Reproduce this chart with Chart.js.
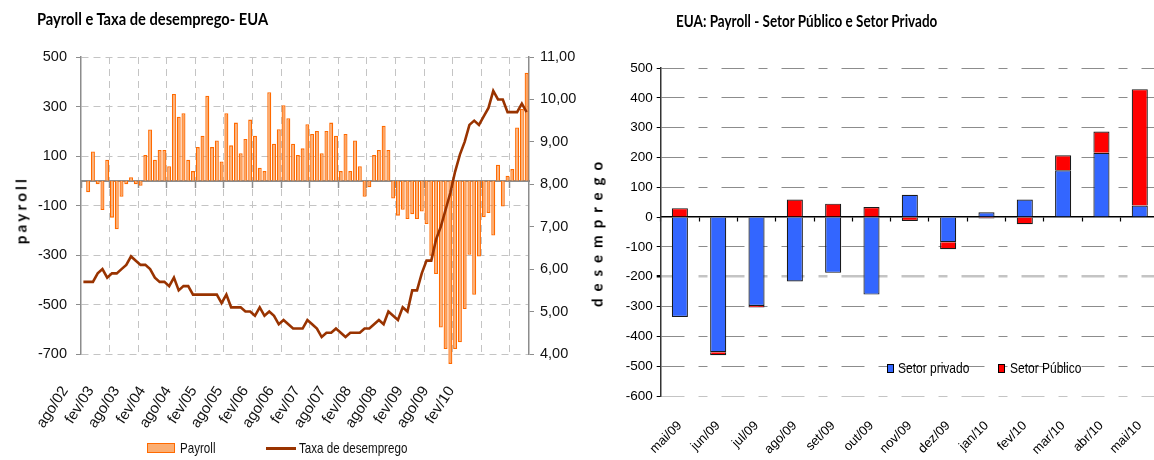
<!DOCTYPE html>
<html><head><meta charset="utf-8">
<script src="https://cdn.jsdelivr.net/npm/chart.js@4.4.1/dist/chart.umd.min.js"></script>
<style>
html,body{margin:0;padding:0;overflow:hidden;background:#fff;}
#wrap{position:relative;width:1154px;height:460px;overflow:hidden;background:#fff;}
canvas{position:absolute;top:0;}
.t{position:absolute;white-space:nowrap;line-height:1;transform-origin:left top;color:#000;font-family:Lato,sans-serif;font-weight:bold;}
.ax{position:absolute;white-space:nowrap;line-height:1;font-family:Lato,sans-serif;font-weight:bold;font-size:15px;color:#000;transform:translate(-50%,-50%) rotate(-90deg);}
.lt{position:absolute;white-space:nowrap;line-height:16px;font-family:'Liberation Sans',Arial,sans-serif;color:#111;transform-origin:left center;transform:scaleX(0.8);}
.sw{position:absolute;box-sizing:border-box;}
</style></head><body>
<div id="wrap">
<canvas id="c1" width="590" height="460" style="left:0"></canvas>
<canvas id="c2" width="565" height="460" style="left:600px"></canvas>
<div class="t" style="left:37px;top:10px;font-size:14.7px;transform:scaleY(1.17)">Payroll e Taxa de desemprego- EUA</div>
<div class="t" style="left:676px;top:14px;font-size:13.5px;transform:scaleY(1.2)">EUA: Payroll - Setor Público e Setor Privado</div>
<div class="ax" style="left:21px;top:210px;letter-spacing:3.3px">payroll</div>
<div class="ax" style="left:597px;top:231px;letter-spacing:7px">desemprego</div>
<div class="sw" style="left:147px;top:443px;width:28px;height:10px;background:#FBAE72;border:1.5px solid #FF6A00"></div>
<div class="lt" style="left:180px;top:440px;font-size:14.5px">Payroll</div>
<div class="sw" style="left:266px;top:446.5px;width:30px;height:3px;background:#993300"></div>
<div class="lt" style="left:299px;top:440px;font-size:14.5px">Taxa de desemprego</div>
<div class="sw" style="left:887px;top:363.5px;width:7px;height:9px;background:#3366FF;border:1px solid #000"></div>
<div class="lt" style="left:898px;top:360px;font-size:15px;color:#000">Setor privado</div>
<div class="sw" style="left:998px;top:363.5px;width:7px;height:9px;background:#FF0000;border:1px solid #000"></div>
<div class="lt" style="left:1010px;top:360px;font-size:15px;color:#000">Setor Público</div>
</div>
<script>
// ---------- Left chart data ----------
const months = [
 'ago/02','set/02','out/02','nov/02','dez/02',
 'jan/03','fev/03','mar/03','abr/03','mai/03','jun/03','jul/03','ago/03','set/03','out/03','nov/03','dez/03',
 'jan/04','fev/04','mar/04','abr/04','mai/04','jun/04','jul/04','ago/04','set/04','out/04','nov/04','dez/04',
 'jan/05','fev/05','mar/05','abr/05','mai/05','jun/05','jul/05','ago/05','set/05','out/05','nov/05','dez/05',
 'jan/06','fev/06','mar/06','abr/06','mai/06','jun/06','jul/06','ago/06','set/06','out/06','nov/06','dez/06',
 'jan/07','fev/07','mar/07','abr/07','mai/07','jun/07','jul/07','ago/07','set/07','out/07','nov/07','dez/07',
 'jan/08','fev/08','mar/08','abr/08','mai/08','jun/08','jul/08','ago/08','set/08','out/08','nov/08','dez/08',
 'jan/09','fev/09','mar/09','abr/09','mai/09','jun/09','jul/09','ago/09','set/09','out/09','nov/09','dez/09',
 'jan/10','fev/10','mar/10','abr/10','mai/10'
];
const payroll = [
 null, -46, 118, -14, -118,
 85, -149, -196, -65, -14, 14, -14, -20, 104, 207, 85, 124,
 124, 59, 351, 259, 273, 85, 39, 136, 182, 343, 136, 163,
 78, 273, 143, 235, 111, 169, 247, 182, 53, 39, 358, 150,
 208, 305, 253, 150, 104, 131, 228, 189, 201, 111, 201, 235,
 182, 39, 189, 39, 163, 59, -65, -26, 104, 124, 222, 124,
 -72, -141, -117, -155, -135, -155, -124, -175, -303, -377, -593, -680,
 -740, -680, -653, -518, -299, -461, -306, -147, -130, -221, 65, -104,
 20, 47, 215, 290, 436
];
const unemployment = [
 5.7, 5.7, 5.7, 5.9, 6.0,
 5.8, 5.9, 5.9, 6.0, 6.1, 6.3, 6.2, 6.1, 6.1, 6.0, 5.8, 5.7,
 5.7, 5.6, 5.8, 5.5, 5.6, 5.6, 5.4, 5.4, 5.4, 5.4, 5.4, 5.4,
 5.2, 5.4, 5.1, 5.1, 5.1, 5.0, 5.0, 4.9, 5.1, 4.9, 5.0, 4.9,
 4.7, 4.8, 4.7, 4.6, 4.6, 4.6, 4.8, 4.7, 4.6, 4.4, 4.5, 4.5,
 4.6, 4.5, 4.4, 4.5, 4.5, 4.5, 4.6, 4.6, 4.7, 4.8, 4.7, 5.0,
 4.9, 4.8, 5.1, 5.0, 5.5, 5.5, 5.9, 6.2, 6.2, 6.7, 7.0, 7.4,
 7.8, 8.3, 8.7, 9.0, 9.4, 9.5, 9.4, 9.6, 9.8, 10.2, 10.0, 10.0,
 9.7, 9.7, 9.7, 9.9, 9.7
];
const xTickLabels = ['ago/02','fev/03','ago/03','fev/04','ago/04','fev/05','ago/05','fev/06',
 'ago/06','fev/07','ago/07','fev/08','ago/08','fev/09','ago/09','fev/10'];

// ---------- Right chart data ----------
const rCats = ['mai/09','jun/09','jul/09','ago/09','set/09','out/09','nov/09','dez/09','jan/10','fev/10','mar/10','abr/10','mai/10'];
const privado = [-335, -453, -298, -216, -187, -260, 75, -84, 16, 59, 157, 216, 39];
const publico = [30, -10, -5, 59, 45, 34, -13, -24, -5, -24, 50, 71, 390];

// ---------- Styles ----------
const FONT = "'Liberation Sans',Arial,sans-serif";
const ORANGE_FILL = '#FBA868', ORANGE_LINE = '#FF6A00', BROWN = '#993300';
const GRID1 = '#c4c4c4', AXIS1 = '#8c8c8c', NONE = 'rgba(0,0,0,0)';

new Chart(document.getElementById('c1'), {
  type: 'bar',
  data: {
    labels: months,
    datasets: [
      { type:'line', label:'Taxa de desemprego', data: unemployment, xAxisID:'x', yAxisID:'y2',
        borderColor: BROWN, borderWidth: 2.6, pointRadius: 0, tension: 0, fill: false },
      { type:'bar', label:'Payroll', data: payroll, xAxisID:'x', yAxisID:'y',
        backgroundColor: ORANGE_FILL, borderColor: ORANGE_LINE, borderWidth: 1.3,
        barPercentage: 0.84, categoryPercentage: 1, clip: false }
    ]
  },
  options: {
    responsive: false, animation: false,
    layout: { padding: { top: 57, left: 0, right: 0, bottom: 0 } },
    plugins: { legend: { display: false }, tooltip: { enabled: false } },
    scales: {
      x: { type:'category', position:'bottom', offset:true,
           afterFit: s => { s.height = 0; },
           grid: { offset:true, drawTicks:false, drawOnChartArea:true,
                   color: c => (c.index > 0 && c.index % 6 === 0) ? GRID1 : NONE, lineWidth: 1 },
           border: { display:false, dash:[7,5] },
           ticks: { display:false, autoSkip:false } },
      xl: { type:'linear', position:'bottom', min:0, max:16.38,
            afterFit: s => { s.height = 106; },
            grid: { display:false }, border: { display:false },
            ticks: { stepSize:1, autoSkip:false, minRotation:57, maxRotation:57, labelOffset:-29,
                     padding:21, color:'#111', font:{ family:FONT, size:15 },
                     callback: v => (xTickLabels[v] !== undefined ? xTickLabels[v] : '') } },
      xz: { type:'category', position:{ y:0 }, offset:true, z:1,
            grid: { offset:true, drawOnChartArea:false, drawTicks:true, tickLength:6,
                    tickColor: c => (c.index % 6 === 0) ? AXIS1 : NONE, tickWidth:1.5 },
            border: { display:true, color:AXIS1, width:2 },
            ticks: { display:false, autoSkip:false } },
      y: { position:'left', min:-700, max:500,
           afterFit: s => { s.width = 81; },
           ticks: { stepSize:200, padding:9, color:'#111', font:{ family:FONT, size:14.5 } },
           grid: { color:GRID1, tickColor:AXIS1, tickLength:5, drawTicks:true },
           border: { display:true, color:AXIS1, width:1.5, dash:[7,5] } },
      y2: { position:'right', min:4, max:11,
            afterFit: s => { s.width = 61; },
            ticks: { stepSize:1, padding:6, color:'#111', font:{ family:FONT, size:14.5 },
                     callback: v => v.toFixed(2).replace('.', ',') },
            grid: { drawOnChartArea:false, tickColor:AXIS1, tickLength:5 },
            border: { display:true, color:AXIS1, width:1.5 } }
    }
  }
});

new Chart(document.getElementById('c2'), {
  type: 'bar',
  data: {
    labels: rCats,
    datasets: [
      { label:'Setor privado', data: privado, backgroundColor:'#3366FF', borderColor:'#1a1a1a', borderWidth:1.2,
        stack:'s', barPercentage:0.42, categoryPercentage:1 },
      { label:'Setor Público', data: publico, backgroundColor:'#FF0000', borderColor:'#1a1a1a', borderWidth:1.2,
        stack:'s', barPercentage:0.42, categoryPercentage:1 }
    ]
  },
  options: {
    responsive: false, animation: false,
    layout: { padding: { top: 68, left: 0, right: 5, bottom: 0 } },
    plugins: { legend: { display: false }, tooltip: { enabled: false } },
    scales: {
      x: { stacked:true, offset:true, afterFit: s => { s.height = 64; },
           grid: { display:false }, border: { display:false },
           ticks: { autoSkip:false, minRotation:45, maxRotation:45, padding:14, color:'#000',
                    font:{ family:FONT, size:13 } } },
      xz: { type:'category', position:{ y:0 }, offset:true, z:1,
            grid: { offset:true, drawOnChartArea:false, drawTicks:true, tickLength:4, tickColor:'#000', tickWidth:1.2 },
            border: { display:true, color:'#000', width:1.5 },
            ticks: { display:false } },
      y: { stacked:true, min:-600, max:500,
           afterFit: s => { s.width = 60.7; },
           ticks: { stepSize:100, padding:4, color:'#000', font:{ family:FONT, size:13.5 } },
           grid: { color: c => { const v = c.tick ? c.tick.value : null;
                                 if (v === 0) return NONE;
                                 if (v === -200 || v === -600) return '#c4c4c4';
                                 return '#8c8c8c'; },
                   lineWidth: c => (c.tick && c.tick.value === -200) ? 2.5 : 1,
                   tickColor:'#000', tickLength:4, drawTicks:true },
           border: { display:true, color:'#333', width:1.5, dash:[23,14,9,14] } }
    }
  }
});
</script>
</body></html>
